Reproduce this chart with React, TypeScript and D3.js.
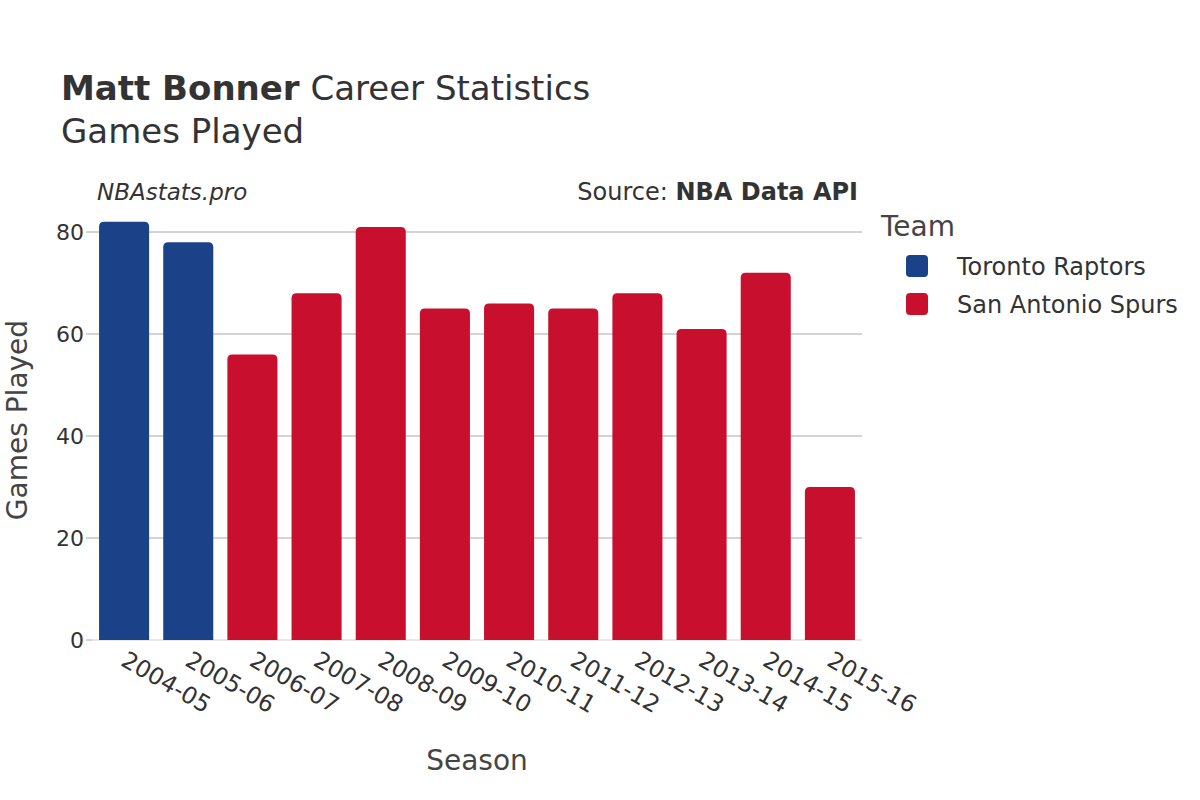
import React from "react";
import * as d3 from "d3";

const seasons = ["2004-05","2005-06","2006-07","2007-08","2008-09","2009-10","2010-11","2011-12","2012-13","2013-14","2014-15","2015-16"];
const games = [82, 78, 56, 68, 81, 65, 66, 65, 68, 61, 72, 30];
const teams = ["Toronto Raptors","Toronto Raptors","San Antonio Spurs","San Antonio Spurs","San Antonio Spurs","San Antonio Spurs","San Antonio Spurs","San Antonio Spurs","San Antonio Spurs","San Antonio Spurs","San Antonio Spurs","San Antonio Spurs"];
const legendTeams = ["Toronto Raptors", "San Antonio Spurs"];
const teamColors = ["#1b4289", "#c8102e"];
const yTicks = [0, 20, 40, 60, 80];

const FONT = "'DejaVu Sans', sans-serif";

function topRoundedBar(x: number, y: number, w: number, h: number, r: number) {
  const rr = Math.min(r, h / 2, w / 2);
  return `M${x},${y + h}V${y + rr}Q${x},${y} ${x + rr},${y}H${x + w - rr}Q${x + w},${y} ${x + w},${y + rr}V${y + h}Z`;
}

export default function App() {
  const left = 92, right = 862, top = 232, bottom = 640;
  const x = d3.scaleBand<string>().domain(seasons).range([left, right]).paddingInner(0.22).paddingOuter(0.11);
  const y = d3.scaleLinear().domain([0, 80]).range([bottom, top]);
  const color = d3.scaleOrdinal<string, string>().domain(legendTeams).range(teamColors);

  return (
    <svg width={1200} height={800} style={{ position: "absolute", left: 0, top: 0, background: "#fff" }} fontFamily={FONT}>
      <rect width={1200} height={800} fill="#fff" />
      <text x={61} y={100} fontSize={34} fill="#333">
        <tspan fontWeight="bold">Matt Bonner</tspan>
        <tspan> Career Statistics</tspan>
      </text>
      <text x={61} y={143} fontSize={34} fill="#333">Games Played</text>
      <text x={97} y={200} fontSize={23} fontStyle="italic" fill="#333">NBAstats.pro</text>
      <text x={858} y={200} fontSize={24} textAnchor="end" fill="#333">
        <tspan>Source: </tspan>
        <tspan fontWeight="bold">NBA Data API</tspan>
      </text>

      {yTicks.filter(t => t > 0).map(t => (
        <line key={t} x1={left} x2={right} y1={y(t)} y2={y(t)} stroke="#a8a8a8" strokeWidth={1} />
      ))}
      <line x1={left} x2={right} y1={y(0)} y2={y(0)} stroke="#e8e8e8" strokeWidth={2} />
      {yTicks.map(t => (
        <g key={t}>
          <line x1={left - 6} x2={left} y1={y(t)} y2={y(t)} stroke="#a8a8a8" strokeWidth={1} />
          <text x={left - 8} y={y(t)} dy="0.36em" textAnchor="end" fontSize={22} fill="#333">{t}</text>
        </g>
      ))}

      {seasons.map((s, i) => (
        <path key={s} d={topRoundedBar(x(s)!, y(games[i]), x.bandwidth(), y(0) - y(games[i]), 5)} fill={color(teams[i])} />
      ))}

      {seasons.map(s => {
        const cx = x(s)! + x.bandwidth() / 2;
        return (
          <text key={s} transform={`translate(${cx + 4},${650}) rotate(30)`} fontSize={23.5} fill="#333" dy="0.72em">{s}</text>
        );
      })}

      <text transform={`translate(17,420) rotate(-90)`} textAnchor="middle" fontSize={28} fill="#444" dy="0.35em">Games Played</text>
      <text x={477} y={770} textAnchor="middle" fontSize={28} fill="#444">Season</text>

      <text x={881} y={236} fontSize={28} fill="#444">Team</text>
      {legendTeams.map((t, i) => (
        <g key={t}>
          <rect x={906} y={255 + i * 38} width={22} height={22} rx={4} fill={color(t)} />
          <text x={957} y={266 + i * 38} dy="0.36em" fontSize={24} fill="#333">{t}</text>
        </g>
      ))}
    </svg>
  );
}
